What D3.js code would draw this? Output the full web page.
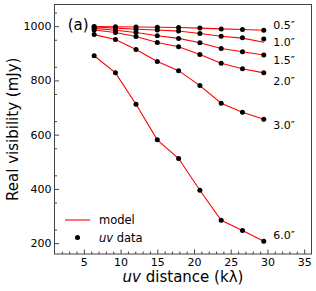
<!DOCTYPE html>
<html><head><meta charset="utf-8">
<script src="https://cdn.jsdelivr.net/npm/d3@7"></script>
<style>body{margin:0;background:#fff}svg{display:block}text{font-family:"DejaVu Sans",sans-serif}</style>
</head><body><svg id="c" width="316" height="291"></svg>
<script>
const uv = [6.4, 9.3, 12.1, 15.0, 17.9, 20.8, 23.7, 26.6, 29.5];
const sizes = ["0.5″", "1.0″", "1.5″", "2.0″", "3.0″", "6.0″"];
const model05 = [999, 998, 997, 996, 995, 993, 990, 988, 985];
const model10 = [997, 993, 989, 986, 982, 973, 963, 956, 941];
const model15 = [992, 985, 977, 965, 955, 939, 918, 906, 894];
const model20 = [986, 977, 962, 940, 924, 896, 863, 843, 828];
const model30 = [969, 951, 914, 870, 836, 781, 716, 683, 657];
const model60 = [891, 828, 712, 581, 512, 395, 284, 247, 207];
const data05 = [999, 998, 997, 996, 995, 993, 990, 988, 985];
const data10 = [997, 993, 989, 986, 982, 973, 963, 957, 953];
const data15 = [992, 985, 977, 965, 955, 939, 918, 906, 894];
const data20 = [986, 977, 962, 940, 924, 896, 863, 843, 828];
const data30 = [969, 951, 914, 870, 836, 781, 716, 683, 657];
const data60 = [891, 828, 712, 581, 512, 395, 284, 247, 207];
const labelY = [1003, 940, 875, 799, 634, 229];
const xTicks = [5, 10, 15, 20, 25, 30, 35];
const yTicks = [200, 400, 600, 800, 1000];

const models = [model05, model10, model15, model20, model30, model60];
const datas = [data05, data10, data15, data20, data30, data60];

const svg = d3.select("#c");
const L = 54.5, R = 311.5, T = 4.5, B = 254;
const x = d3.scaleLinear().domain([1, 36]).range([L, R]);
const y = d3.scaleLinear().domain([160, 1080]).range([B, T]);
const axisCol = "#444";

const gx = svg.append("g").attr("transform", `translate(0,${B})`);
gx.call(d3.axisBottom(x).tickValues(d3.range(2, 36, 1).filter(v => v % 5 !== 0)).tickSize(-2.5).tickFormat(""));
const gxM = svg.append("g").attr("transform", `translate(0,${B})`);
gxM.call(d3.axisBottom(x).tickValues(xTicks).tickSize(-4.5).tickPadding(4.5).tickFormat(d3.format("d")));
const gy = svg.append("g").attr("transform", `translate(${L},0)`);
gy.call(d3.axisLeft(y).tickValues(d3.range(250, 1080, 100)).tickSize(-2.5).tickFormat(""));
const gyM = svg.append("g").attr("transform", `translate(${L},0)`);
gyM.call(d3.axisLeft(y).tickValues(yTicks).tickSize(-4.5).tickPadding(3).tickFormat(d3.format("d")));
[gx, gxM, gy, gyM].forEach(g => {
  g.select(".domain").remove();
  g.selectAll("line").attr("stroke", axisCol);
  g.selectAll("text").attr("fill", "#000").style("font-size", "11px").style("font-family", "DejaVu Sans");
});
gyM.selectAll("text").attr("x", -3);

svg.append("rect").attr("x", L).attr("y", T).attr("width", R - L).attr("height", B - T)
  .attr("fill", "none").attr("stroke", axisCol).attr("stroke-width", 1);

const line = d3.line().x((d, i) => x(uv[i])).y(d => y(d));
models.forEach(m => {
  svg.append("path").datum(m).attr("d", line).attr("fill", "none")
    .attr("stroke", "#ff0000").attr("stroke-width", 1.1);
});
datas.forEach(ds => {
  svg.append("g").selectAll("circle").data(ds).join("circle")
    .attr("cx", (d, i) => x(uv[i])).attr("cy", d => y(d)).attr("r", 2.5).attr("fill", "#000");
});

sizes.forEach((s, i) => {
  svg.append("text").attr("x", x(30.8)).attr("y", y(labelY[i])).attr("dy", "0.35em")
    .style("font-size", "11px").text(s);
});

svg.append("text").attr("x", x(2.8)).attr("y", y(1006)).attr("dy", "0.35em")
  .style("font-size", "15px").text("(a)");

// legend
svg.append("line").attr("x1", 65).attr("x2", 90).attr("y1", 220).attr("y2", 220)
  .attr("stroke", "#ff0000").attr("stroke-width", 1.1);
svg.append("text").attr("x", 99).attr("y", 220).attr("dy", "0.35em").style("font-size", "11.5px").text("model");
svg.append("circle").attr("cx", 77.5).attr("cy", 237.5).attr("r", 2.5).attr("fill", "#000");
const lt = svg.append("text").attr("x", 99).attr("y", 237.5).attr("dy", "0.35em").style("font-size", "11.5px");
lt.append("tspan").style("font-style", "italic").text("uv");
lt.append("tspan").text(" data");

// axis titles
const xt = svg.append("text").attr("x", (L + R) / 2).attr("y", 276.5).attr("dy", "0.35em")
  .attr("text-anchor", "middle").style("font-size", "15px");
xt.append("tspan").style("font-style", "italic").text("uv");
xt.append("tspan").text(" distance (kλ)");
svg.append("text").attr("transform", `translate(13,${(T + B) / 2}) rotate(-90)`).attr("dy", "0.35em")
  .attr("text-anchor", "middle").style("font-size", "15px").text("Real visibility (mJy)");
</script></body></html>
